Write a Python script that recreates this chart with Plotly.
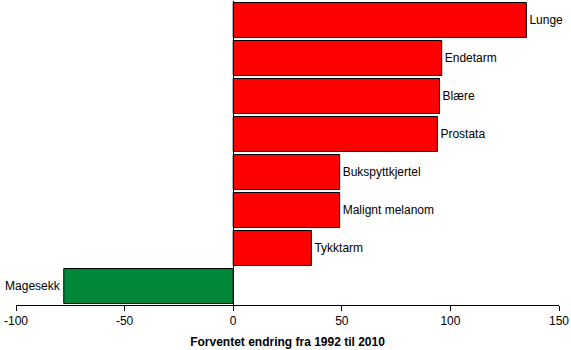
import plotly.graph_objects as go

# Expected change (%) in cancer incidence, 1992 -> 2010
sites = ["Lunge", "Endetarm", "Blære", "Prostata", "Bukspyttkjertel",
         "Malignt melanom", "Tykktarm", "Magesekk"]
change = [135, 96, 95, 94, 49, 49, 36, -78]

tick_vals = [-100, -50, 0, 50, 100, 150]
tick_text = ["-100", "-50", "0", "50", "100", "150"]

colors = ["#FF0000" if v >= 0 else "#00873A" for v in change]

fig = go.Figure(go.Bar(
    x=change,
    y=sites,
    orientation="h",
    marker=dict(color=colors, line=dict(color="black", width=1)),
    text=sites,
    textposition="outside",
    textfont=dict(family="Liberation Sans, Arial", size=12, color="black"),
    constraintext="none",
    cliponaxis=False,
    hoverinfo="x+y",
))

fig.update_layout(
    width=571, height=350,
    margin=dict(l=16, r=12, t=1, b=45),
    paper_bgcolor="white",
    plot_bgcolor="white",
    bargap=0.08,
    showlegend=False,
    font=dict(family="Liberation Sans, Arial", size=12, color="black"),
    xaxis=dict(
        range=[-100, 150],
        tickvals=tick_vals,
        ticktext=tick_text,
        showgrid=False,
        showline=True, linecolor="black", linewidth=1,
        ticks="outside", ticklen=5, tickcolor="black",
        zeroline=True, zerolinecolor="black", zerolinewidth=1,
        tickfont=dict(size=12),
        title=dict(text="<b>Forventet endring fra 1992 til 2010</b>",
                   font=dict(size=12), standoff=10),
    ),
    yaxis=dict(
        categoryorder="array",
        categoryarray=sites[::-1],
        showticklabels=False,
        showgrid=False,
        showline=False,
        ticks="",
        zeroline=False,
    ),
)

fig.write_html("out.html")
